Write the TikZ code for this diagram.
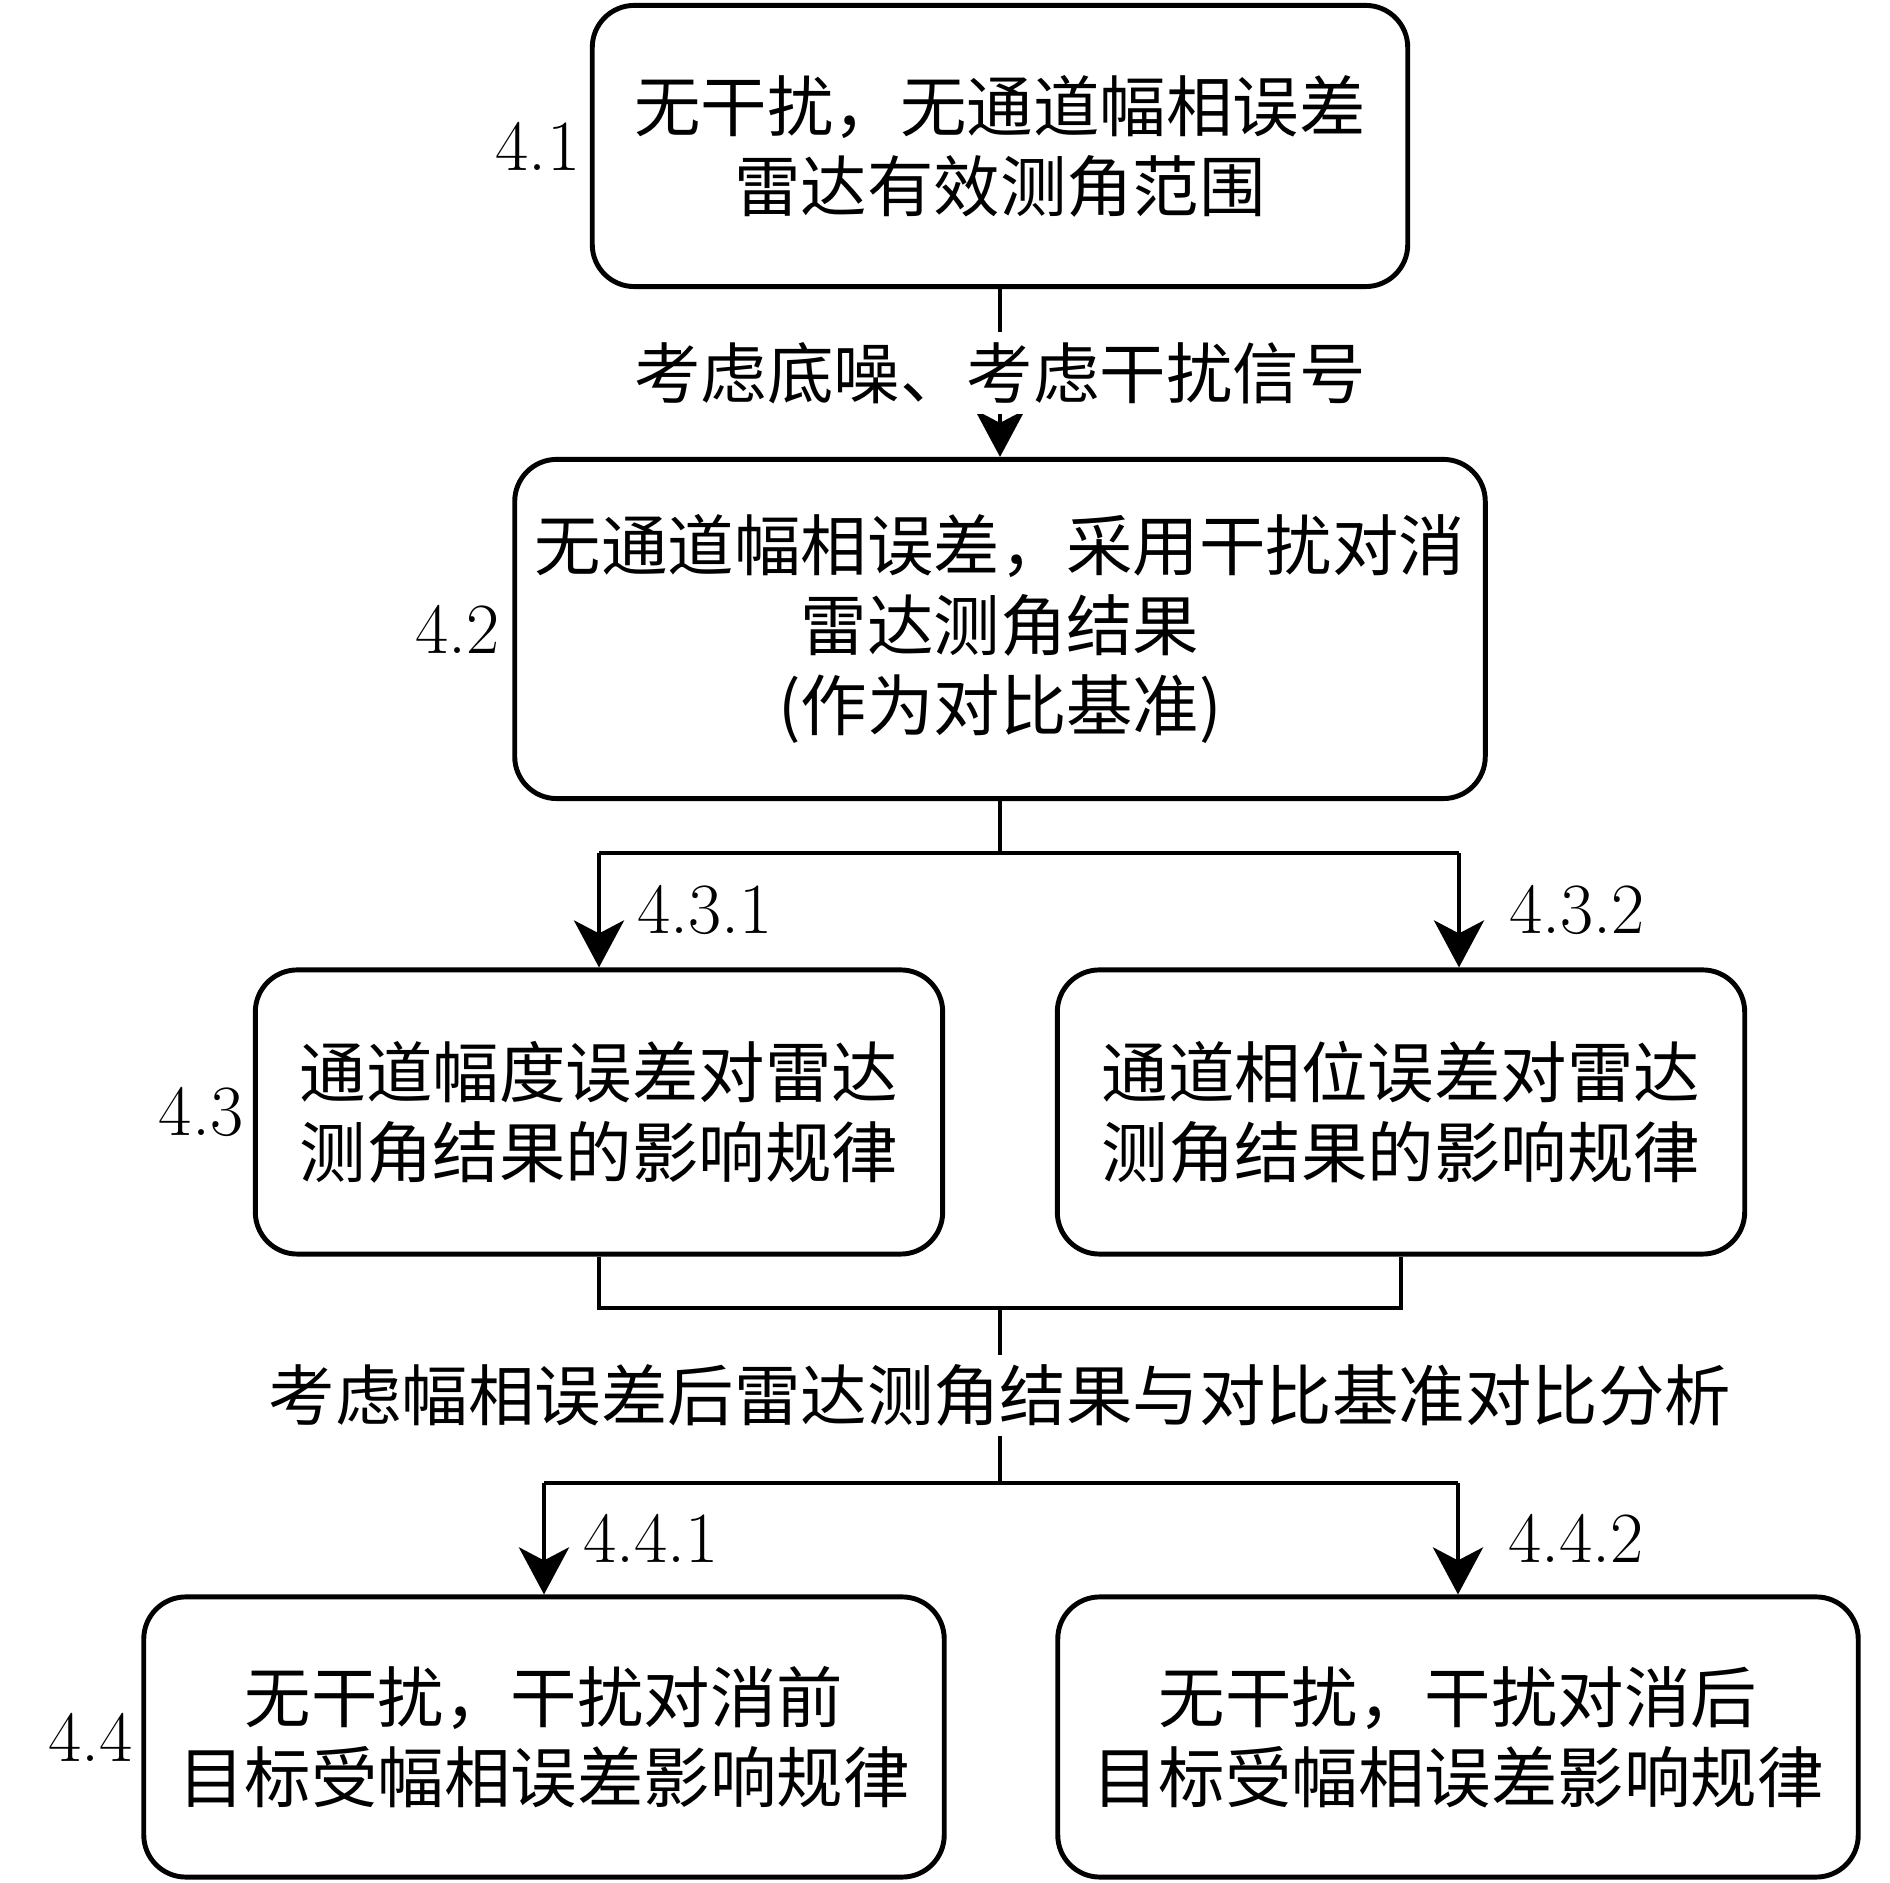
\documentclass[tikz,border=0pt]{standalone}
\usepackage{fontspec}
\newfontfamily\cjk{Noto Sans CJK SC}
\usetikzlibrary{arrows.meta,positioning}
\tikzset{
  >={Stealth[length=0.47cm,width=0.5cm,inset=0.13cm]}, % pointe des fleches
  box/.style={draw,line width=1.4pt,rounded corners=0.42cm,align=center,inner sep=0pt,
    font=\cjk\fontsize{18.9}{22.8}\selectfont},
  connect/.style={line width=1.3pt},
  num/.style={inner sep=0pt,font=\fontsize{20.5}{22.8}\selectfont}
}
\begin{document}
\begin{tikzpicture}[x=0.01cm, y=-0.01cm]
\useasboundingbox (0,0) rectangle (1890,1883);

% Styles
\tikzstyle{step box 1} = [box, minimum width=8.15cm, minimum height=2.81cm]
\tikzstyle{step box 2} = [box, minimum width=9.70cm, minimum height=3.39cm]
\tikzstyle{step box 3} = [box, minimum width=6.87cm, minimum height=2.84cm]
\tikzstyle{step box 4} = [box, minimum width=8.00cm, minimum height=2.80cm]
\tikzstyle{annot} = [fill=white, inner sep=0.1cm, font=\cjk\fontsize{18.9}{22.8}\selectfont]

% Boites
\node[step box 1] (B1) at (1000,146) {无干扰，无通道幅相误差\\雷达有效测角范围};
\node[step box 2] (B2) at (1000,629) {无通道幅相误差，采用干扰对消\\雷达测角结果\\(作为对比基准)};
\node[step box 3] (B3L) at (599,1112) {通道幅度误差对雷达\\测角结果的影响规律};
\node[step box 3] (B3R) at (1401,1112) {通道相位误差对雷达\\测角结果的影响规律};
\node[step box 4] (B4L) at (544,1737) {无干扰，干扰对消前\\目标受幅相误差影响规律};
\node[step box 4] (B4R) at (1458,1737) {无干扰，干扰对消后\\目标受幅相误差影响规律};

% Numeros des sections
\node[num, left=0.09cm of B1] (N1) {4.1};
\node[num, left=0.12cm of B2] (N2) {4.2};
\node[num, left=0.09cm of B3L] (N3) {4.3};
\node[num, left=0.08cm of B4L] (N4) {4.4};

% Points de jonction
\coordinate (J1) at (1000,853);
\coordinate (J1L) at (B3L.north |- J1);
\coordinate (J1R) at (1459,853);
\coordinate (J2) at (1000,1308);
\coordinate (J3) at (1000,1483);
\coordinate (J3L) at (B4L.north |- J3);
\coordinate (J3R) at (B4R.north |- J3);

% Connexions 4.1 -> 4.2
\draw[connect,->] (B1) -- node[annot] {考虑底噪、考虑干扰信号} (B2);

% Connexions 4.2 -> 4.3
\draw[connect] (B2) -- (J1);
\draw[connect] (J1L) -- (J1R);
\draw[connect,->] (J1L) -- node[num, right=0.36cm] {4.3.1} (B3L);
\draw[connect,->] (J1R) -- node[num, right=0.48cm] {4.3.2} (J1R |- B3R.north);

% Connexions 4.3 -> 4.4
\draw[connect] (B3L) -- (B3L.south |- J2) -- (B3R.south |- J2) -- (B3R);
\draw[connect] (J2) -- node[annot] {考虑幅相误差后雷达测角结果与对比基准对比分析} (J3);
\draw[connect] (J3L) -- (J3R);
\draw[connect,->] (J3L) -- node[num, right=0.37cm] {4.4.1} (B4L);
\draw[connect,->] (J3R) -- node[num, right=0.48cm] {4.4.2} (B4R);

\end{tikzpicture}
\end{document}
